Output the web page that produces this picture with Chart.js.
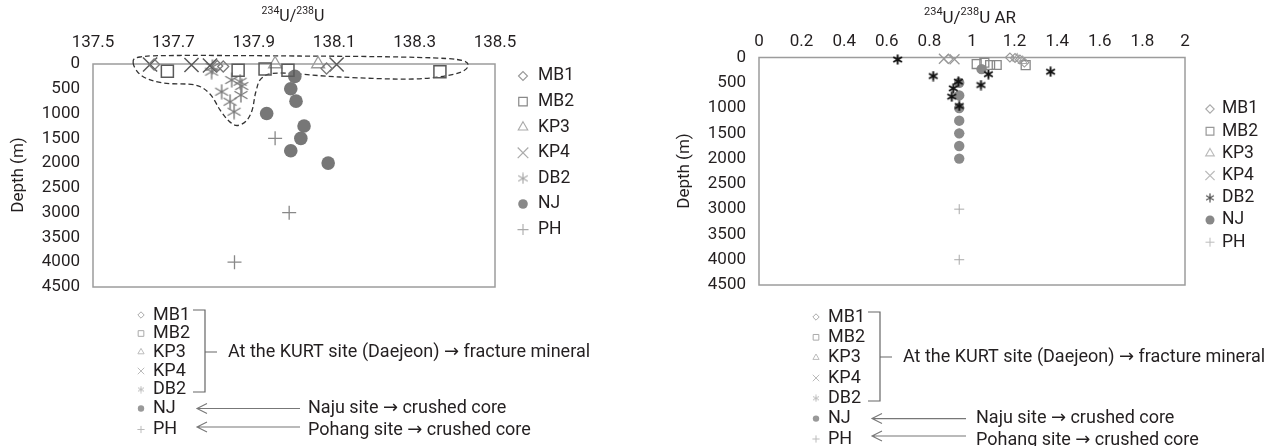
<!DOCTYPE html>
<html>
<head>
<meta charset="utf-8">
<script src="https://cdn.jsdelivr.net/npm/chart.js@4/dist/chart.umd.min.js"></script>
<style>
html,body{margin:0;padding:0;background:#fff;}
#wrap{position:relative;width:1283px;height:446px;overflow:hidden;background:#fff;}
#c1{position:absolute;left:0;top:0;width:660px;height:446px;}
#c2{position:absolute;left:660px;top:0;width:623px;height:446px;}
</style>
</head>
<body>
<div id="wrap">
<canvas id="c1" width="660" height="446"></canvas>
<canvas id="c2" width="623" height="446"></canvas>
</div>
<script>
// ---------------- DATA ----------------
const SERIES = ['MB1', 'MB2', 'KP3', 'KP4', 'DB2', 'NJ', 'PH'];

// Left chart: 234U/238U  [value, depth (m)]
const ratioMB1 = [[137.652, 10], [137.809, 40], [137.824, 50], [138.081, 90]];
const ratioMB2 = [[137.685, 148], [137.861, 128], [137.928, 100], [137.985, 125], [138.363, 155]];
const ratioKP3 = [[137.953, 0], [138.060, 0]];
const ratioKP4 = [[137.642, 10], [137.745, 20], [137.791, 30], [138.106, 10]];
const ratioDB2 = [[137.797, 60], [137.795, 155], [137.845, 323], [137.866, 357], [137.870, 444],
                  [137.820, 559], [137.868, 626], [137.841, 761], [137.851, 963]];
const ratioNJ  = [[138.002, 250], [137.992, 500], [138.005, 750], [137.932, 1000], [138.025, 1250],
                  [138.017, 1500], [137.992, 1750], [138.085, 2000]];
const ratioPH  = [[137.953, 1500], [137.988, 3000], [137.852, 4000]];

// Right chart: 234U/238U AR  [value, depth (m)]
const arMB1 = [[0.889, 30], [1.178, 0], [1.202, 10], [1.225, 40], [1.246, 100]];
const arMB2 = [[1.022, 129], [1.058, 103], [1.085, 148], [1.116, 148], [1.252, 150]];
const arKP3 = [[1.212, 20], [1.238, 70]];
const arKP4 = [[0.868, 25], [0.918, 35]];
const arDB2 = [[0.651, 40], [0.818, 366], [1.077, 330], [1.369, 281], [1.042, 544],
               [0.936, 478], [0.912, 610], [0.905, 775], [0.940, 959]];
const arNJ  = [[1.045, 230], [0.940, 500], [0.940, 750], [0.940, 1000], [0.940, 1250],
               [0.940, 1500], [0.940, 1750], [0.940, 2000]];
const arPH  = [[0.940, 1500], [0.940, 3000], [0.940, 4000]];

// Ticks
const ratioTicks  = [137.5, 137.7, 137.9, 138.1, 138.3, 138.5];
const ratioLabels = ['137.5', '137.7', '137.9', '138.1', '138.3', '138.5'];
const arTicks  = [0, 0.2, 0.4, 0.6, 0.8, 1, 1.2, 1.4, 1.6, 1.8, 2];
const arLabels = ['0', '0.2', '0.4', '0.6', '0.8', '1', '1.2', '1.4', '1.6', '1.8', '2'];
const depthTicks  = [0, 500, 1000, 1500, 2000, 2500, 3000, 3500, 4000, 4500];
const depthLabels = ['0', '500', '1000', '1500', '2000', '2500', '3000', '3500', '4000', '4500'];

// Dashed grouping outline around the KURT fracture-mineral points (data units)
const kurtOutline = [[137.600, -14], [137.617, -141], [137.716, -172], [138.015, -161], [138.264, -141],
                     [138.405, -91], [138.433, 40], [138.400, 202], [138.296, 303], [138.114, 262],
                     [137.965, 182], [137.920, 282], [137.905, 565], [137.896, 928], [137.881, 1150],
                     [137.858, 1241], [137.838, 1150], [137.816, 928], [137.791, 605], [137.754, 424],
                     [137.674, 383], [137.622, 242]];

const groupText = 'At the KURT site (Daejeon) \u2192 fracture mineral';
const najuText = 'Naju site \u2192 crushed core';
const pohangText = 'Pohang site \u2192 crushed core';

// ---------------- STYLE ----------------
const FONT = "Roboto, 'DejaVu Sans', sans-serif";
const TXT = '#231f20';
const NONE = 'rgba(0,0,0,0)';

function asterisk(size, color, lw) {
  const c = document.createElement('canvas');
  c.width = size; c.height = size;
  const g = c.getContext('2d');
  const m = size / 2, r = size / 2 - 0.5;
  g.strokeStyle = color; g.lineWidth = lw;
  g.beginPath();
  for (let k = 0; k < 3; k++) {
    const a = Math.PI / 2 + k * Math.PI / 3;
    g.moveTo(m + Math.cos(a) * r, m - Math.sin(a) * r);
    g.lineTo(m - Math.cos(a) * r, m + Math.sin(a) * r);
  }
  g.stroke();
  return c;
}

const leftPointStyles = [
  {ps: 'rectRot', r: 5.5, c: '#7a7a7a', bw: 1.3},
  {ps: 'rect', r: 8.5, c: '#5a5a5a', bw: 1.5},
  {ps: 'triangle', r: 7.5, c: '#9a9a9a', bw: 1.3},
  {ps: 'crossRot', r: 10, c: '#5a5a5a', bw: 1.5},
  {ps: asterisk(16, '#7a7a7a', 1.4), r: 8, c: '#7a7a7a', bw: 1},
  {ps: 'circle', r: 6.8, c: '#777', bw: 0, fill: '#777'},
  {ps: 'cross', r: 7, c: '#888', bw: 1.3}
];
const leftLegendStyles = [
  {ps: 'rectRot', r: 4.5, c: '#999', bw: 1.1},
  {ps: 'rect', r: 6, c: '#888', bw: 1.2},
  {ps: 'triangle', r: 5.5, c: '#aaa', bw: 1.1},
  {ps: 'crossRot', r: 7.5, c: '#aaa', bw: 1.2},
  {ps: asterisk(12, '#aaa', 1.2), r: 6, c: '#aaa', bw: 1},
  {ps: 'circle', r: 4.8, c: '#888', bw: 0, fill: '#888'},
  {ps: 'cross', r: 5.5, c: '#aaa', bw: 1.1}
];
const rightPointStyles = [
  {ps: 'rectRot', r: 4.5, c: '#999', bw: 1.1},
  {ps: 'rect', r: 6.3, c: '#888', bw: 1.3},
  {ps: 'triangle', r: 5, c: '#aaa', bw: 1.1},
  {ps: 'crossRot', r: 7, c: '#999', bw: 1.3},
  {ps: asterisk(11, '#111', 1.9), r: 6, c: '#111', bw: 1},
  {ps: 'circle', r: 5.2, c: '#8a8a8a', bw: 0, fill: '#8a8a8a'},
  {ps: 'cross', r: 5, c: '#aaa', bw: 1}
];
const rightLegendStyles = [
  {ps: 'rectRot', r: 4.2, c: '#aaa', bw: 1.1},
  {ps: 'rect', r: 5.5, c: '#999', bw: 1.2},
  {ps: 'triangle', r: 5, c: '#bbb', bw: 1.1},
  {ps: 'crossRot', r: 6.5, c: '#bbb', bw: 1.2},
  {ps: asterisk(10, '#555', 1.3), r: 5, c: '#555', bw: 1},
  {ps: 'circle', r: 4.5, c: '#888', bw: 0, fill: '#888'},
  {ps: 'cross', r: 4.5, c: '#bbb', bw: 1}
];
const smallLegendStyles = [
  {ps: 'rectRot', r: 3.2, c: '#aaa', bw: 1},
  {ps: 'rect', r: 4, c: '#aaa', bw: 1},
  {ps: 'triangle', r: 3.6, c: '#bbb', bw: 1},
  {ps: 'crossRot', r: 4.6, c: '#bbb', bw: 1},
  {ps: asterisk(8, '#bbb', 1), r: 4, c: '#bbb', bw: 1},
  {ps: 'circle', r: 3.2, c: '#999', bw: 0, fill: '#999'},
  {ps: 'cross', r: 3.6, c: '#bbb', bw: 1}
];

// ---------------- HELPERS ----------------
function toXY(arr) { return arr.map(p => ({x: p[0], y: p[1]})); }

function drawMarker(ctx, st, x, y) {
  ctx.save();
  ctx.strokeStyle = st.c;
  ctx.fillStyle = st.fill || NONE;
  ctx.lineWidth = st.bw;
  const opts = {pointStyle: st.ps, radius: st.r, rotation: 0, borderWidth: st.bw};
  if (Chart.helpers && Chart.helpers.drawPoint) {
    Chart.helpers.drawPoint(ctx, opts, x, y);
  } else {
    ctx.beginPath(); ctx.arc(x, y, st.r, 0, Math.PI * 2);
    if (st.fill) ctx.fill(); else ctx.stroke();
  }
  ctx.restore();
}

function drawSupTitle(ctx, parts, cx, base, mainSize, supSize, supBase) {
  ctx.save();
  ctx.fillStyle = TXT;
  ctx.textBaseline = 'alphabetic';
  let w = 0;
  parts.forEach(p => {
    ctx.font = (p.sup ? supSize : mainSize) + 'px ' + FONT;
    p.w = ctx.measureText(p.t).width; w += p.w;
  });
  let x = cx - w / 2;
  parts.forEach(p => {
    ctx.font = (p.sup ? supSize : mainSize) + 'px ' + FONT;
    ctx.textAlign = 'left';
    ctx.fillText(p.t, x, p.sup ? supBase : base);
    x += p.w;
  });
  ctx.restore();
}

function drawText(ctx, t, x, y, size, maxW) {
  ctx.save();
  ctx.font = size + 'px ' + FONT;
  ctx.fillStyle = TXT;
  ctx.textAlign = 'left';
  ctx.textBaseline = 'middle';
  if (maxW) ctx.fillText(t, x, y, maxW); else ctx.fillText(t, x, y);
  ctx.restore();
}

function drawArrow(ctx, x1, x2, y) {
  ctx.save();
  ctx.strokeStyle = '#777'; ctx.lineWidth = 1.1;
  ctx.beginPath();
  ctx.moveTo(x1, y); ctx.lineTo(x2, y);
  ctx.moveTo(x1 + 10, y - 5); ctx.lineTo(x1, y); ctx.lineTo(x1 + 10, y + 5);
  ctx.stroke();
  ctx.restore();
}

function drawOutline(chart, pts) {
  const xs = chart.scales.x, ys = chart.scales.y, ctx = chart.ctx;
  const P = pts.map(p => [xs.getPixelForValue(p[0]), ys.getPixelForValue(p[1])]);
  const n = P.length;
  ctx.save();
  ctx.strokeStyle = '#333'; ctx.lineWidth = 1.3; ctx.setLineDash([5, 3]);
  ctx.beginPath();
  ctx.moveTo(P[0][0], P[0][1]);
  for (let i = 0; i < n; i++) {
    const p0 = P[(i - 1 + n) % n], p1 = P[i], p2 = P[(i + 1) % n], p3 = P[(i + 2) % n];
    ctx.bezierCurveTo(p1[0] + (p2[0] - p0[0]) / 6, p1[1] + (p2[1] - p0[1]) / 6,
                      p2[0] - (p3[0] - p1[0]) / 6, p2[1] - (p3[1] - p1[1]) / 6,
                      p2[0], p2[1]);
  }
  ctx.closePath();
  ctx.stroke();
  ctx.restore();
}

function drawGroupNote(ctx, g) {
  // small legend list
  SERIES.forEach((name, i) => {
    drawMarker(ctx, smallLegendStyles[i], g.mx, g.rows[i]);
    drawText(ctx, name, g.tx, g.rows[i], 18);
  });
  // bracket
  ctx.save();
  ctx.strokeStyle = '#666'; ctx.lineWidth = 1.2;
  ctx.beginPath();
  ctx.moveTo(g.bh, g.bt); ctx.lineTo(g.bv, g.bt); ctx.lineTo(g.bv, g.bb); ctx.lineTo(g.bh, g.bb);
  ctx.moveTo(g.bv, g.bm); ctx.lineTo(g.bv + 12, g.bm);
  ctx.stroke();
  ctx.restore();
  drawText(ctx, groupText, g.kx, g.bm, 18, g.kw);
  drawArrow(ctx, g.a1, g.a2, g.ay1);
  drawArrow(ctx, g.a1, g.a2, g.ay2);
  drawText(ctx, najuText, g.nx, g.ny1, 18, g.nw1);
  drawText(ctx, pohangText, g.nx, g.ny2, 18, g.nw2);
}

function decorPlugin(cfg) {
  return {
    id: 'decor',
    beforeDatasetsDraw(chart) {
      const a = chart.chartArea, ctx = chart.ctx;
      ctx.save();
      ctx.strokeStyle = '#9c9c9c'; ctx.lineWidth = 1.5;
      ctx.strokeRect(a.left, a.top, a.right - a.left, a.bottom - a.top);
      ctx.restore();
      if (cfg.outline) drawOutline(chart, cfg.outline);
    },
    afterDraw(chart) {
      const ctx = chart.ctx;
      const t = cfg.title;
      drawSupTitle(ctx, t.parts, t.cx, t.base, t.size, t.sup, t.supBase);
      // y title
      ctx.save();
      ctx.translate(cfg.yTitle.cx, cfg.yTitle.cy);
      ctx.rotate(-Math.PI / 2);
      ctx.font = '17px ' + FONT; ctx.fillStyle = TXT;
      ctx.textAlign = 'center'; ctx.textBaseline = 'middle';
      ctx.fillText('Depth (m)', 0, 0);
      ctx.restore();
      // legend
      const L = cfg.legend;
      SERIES.forEach((name, i) => {
        const y = L.y0 + i * L.dy;
        drawMarker(ctx, L.styles[i], L.mx, y);
        drawText(ctx, name, L.tx, y, L.size);
      });
      drawGroupNote(ctx, cfg.note);
    }
  };
}

function makeChart(id, cfg) {
  const W = cfg.W, H = 446, A = cfg.area;
  const datasets = SERIES.map((name, i) => {
    const st = cfg.styles[i];
    return {
      label: name, data: toXY(cfg.data[i]), showLine: false, clip: false,
      pointStyle: st.ps, pointRadius: st.r, pointHoverRadius: st.r,
      pointBorderColor: st.c, pointBackgroundColor: st.fill || NONE,
      pointBorderWidth: st.bw, pointHoverBorderWidth: st.bw
    };
  });
  const tickFont = {family: FONT, size: 17};
  return new Chart(document.getElementById(id), {
    type: 'scatter',
    data: {datasets},
    options: {
      responsive: false, animation: false, events: [],
      devicePixelRatio: 1,
      layout: {padding: {left: 0, top: 0, right: W - A.right, bottom: H - A.bottom}},
      plugins: {legend: {display: false}, tooltip: {enabled: false}, title: {display: false}},
      scales: {
        x: {
          type: 'linear', position: 'top', min: cfg.xMin, max: cfg.xMax,
          afterBuildTicks: s => { s.ticks = cfg.xTicks.map(v => ({value: v})); },
          afterFit: s => { s.height = A.top; },
          ticks: {callback: (v, i) => cfg.xLabels[i], font: tickFont, color: TXT,
                  padding: cfg.xPad, maxRotation: 0, autoSkip: false},
          grid: {display: false, drawTicks: false}, border: {display: false}
        },
        y: {
          type: 'linear', reverse: true, min: 0, max: 4500,
          afterBuildTicks: s => { s.ticks = depthTicks.map(v => ({value: v})); },
          afterFit: s => { s.width = A.left; },
          ticks: {callback: (v, i) => depthLabels[i], font: tickFont, color: TXT,
                  padding: 13, autoSkip: false},
          grid: {display: false, drawTicks: false}, border: {display: false}
        }
      }
    },
    plugins: [decorPlugin(cfg)]
  });
}

// ---------------- CHARTS ----------------
makeChart('c1', {
  W: 660,
  area: {left: 93, top: 64, right: 495, bottom: 287},
  xMin: 137.5, xMax: 138.5, xTicks: ratioTicks, xLabels: ratioLabels, xPad: 11,
  data: [ratioMB1, ratioMB2, ratioKP3, ratioKP4, ratioDB2, ratioNJ, ratioPH],
  styles: leftPointStyles,
  outline: kurtOutline,
  title: {parts: [{t: '234', sup: true}, {t: 'U/'}, {t: '238', sup: true}, {t: 'U'}],
          cx: 293, base: 21, size: 16, sup: 10.5, supBase: 13.5},
  yTitle: {cx: 18.5, cy: 175},
  legend: {mx: 523, tx: 538, y0: 76, dy: 25.6, size: 17.5, styles: leftLegendStyles},
  note: {mx: 141, tx: 153, rows: [315, 333.5, 352, 371, 389.5, 408.5, 429.5],
         bh: 193, bv: 205, bt: 310, bb: 392, bm: 352, kx: 228, kw: 363,
         a1: 197, a2: 300, ay1: 408.5, ay2: 427, nx: 308, ny1: 408.5, ny2: 430.5, nw1: 200, nw2: 225}
});

makeChart('c2', {
  W: 623,
  area: {left: 99, top: 57.5, right: 525, bottom: 285},
  xMin: 0, xMax: 2, xTicks: arTicks, xLabels: arLabels, xPad: 5.5,
  data: [arMB1, arMB2, arKP3, arKP4, arDB2, arNJ, arPH],
  styles: rightPointStyles,
  outline: null,
  title: {parts: [{t: '234', sup: true}, {t: 'U/'}, {t: '238', sup: true}, {t: 'U AR'}],
          cx: 310, base: 22.5, size: 17, sup: 11, supBase: 14.5},
  yTitle: {cx: 25, cy: 171},
  legend: {mx: 550, tx: 562, y0: 109, dy: 22.2, size: 17.5, styles: rightLegendStyles},
  note: {mx: 156, tx: 168, rows: [317, 337.3, 357.6, 378, 398.3, 418.6, 439],
         bh: 208, bv: 220, bt: 312, bb: 401, bm: 357, kx: 243, kw: 365,
         a1: 212, a2: 306, ay1: 418.6, ay2: 436, nx: 316, ny1: 418.6, ny2: 440, nw1: 200, nw2: 225}
});
</script>
</body>
</html>
